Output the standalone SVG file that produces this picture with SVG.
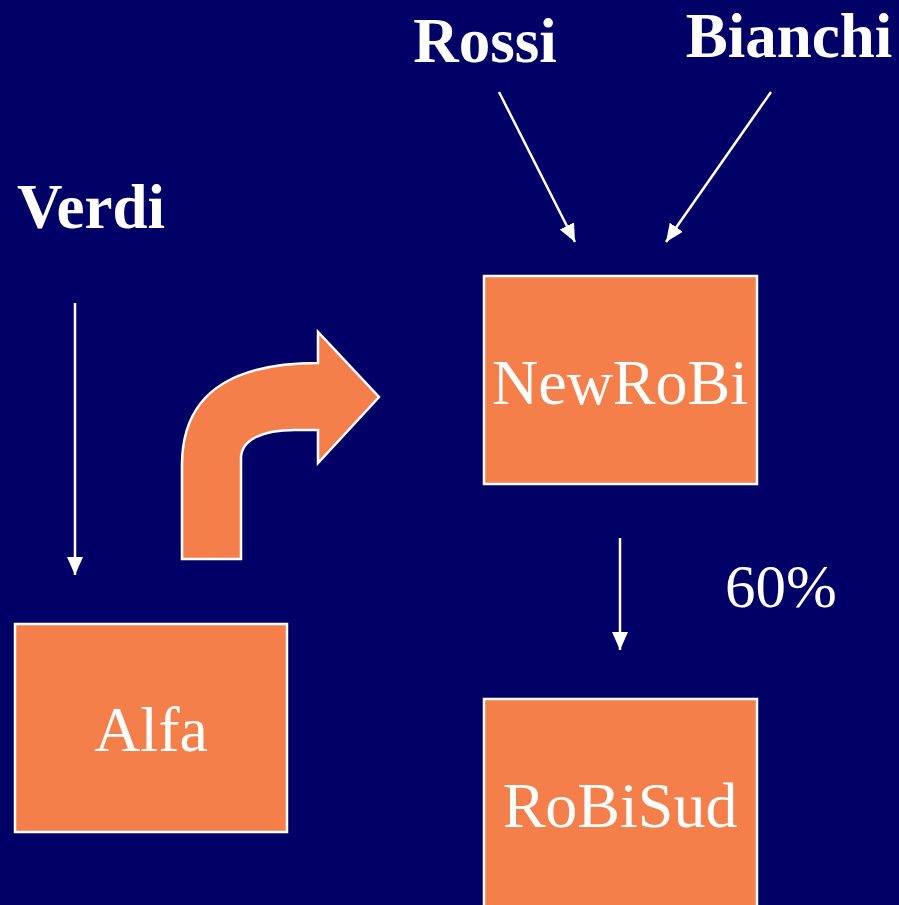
<svg xmlns="http://www.w3.org/2000/svg" width="899" height="905" viewBox="0 0 899 905">
<defs>
<marker id="ah" markerUnits="userSpaceOnUse" markerWidth="20" markerHeight="20" viewBox="0 0 20 20" refX="18" refY="10" orient="auto">
<path d="M0,2 L18,10 L0,18 Z" fill="#ffffff"/>
</marker>
<style>
.box{fill:#F47F4B;stroke:#ffffff;stroke-width:2.5}
.lbl{font-family:"Liberation Serif","Times New Roman",serif;font-size:63px;fill:#ffffff;text-anchor:middle}
.bold{font-weight:bold}
.conn{stroke:#ffffff;stroke-width:2.5;fill:none;marker-end:url(#ah)}
</style>
</defs>
<rect x="0" y="0" width="899" height="905" fill="#000066"/>
<g id="connectors">
<line class="conn" x1="75" y1="303" x2="75" y2="575"/>
<line class="conn" x1="499" y1="92" x2="575" y2="242"/>
<line class="conn" x1="771" y1="92" x2="666" y2="242"/>
<line class="conn" x1="620" y1="538" x2="620" y2="650"/>
</g>
<g id="bentArrow">
<path d="M182,559 V465 C182,398 225,363 318,363 V332 L379,397 L318,463 V430 H295 C262,430 241,440 241,458 V559 Z" fill="#F47F4B" stroke="#ffffff" stroke-width="2.5" stroke-linejoin="miter"/>
</g>
<g id="Verdi"><text class="lbl bold" x="91" y="228">Verdi</text></g>
<g id="Rossi"><text class="lbl bold" x="485" y="62">Rossi</text></g>
<g id="Bianchi"><text class="lbl bold" x="789" y="57">Bianchi</text></g>
<g id="Alfa">
<rect class="box" x="15" y="624" width="272" height="208"/>
<text class="lbl" x="151" y="751" style="font-size:64px">Alfa</text>
</g>
<g id="NewRoBi">
<rect class="box" x="484" y="276" width="273" height="208"/>
<text class="lbl" x="620" y="404" style="font-size:64px">NewRoBi</text>
</g>
<g id="RoBiSud">
<rect class="box" x="484" y="699" width="273" height="230"/>
<text class="lbl" x="620" y="827" style="font-size:64px">RoBiSud</text>
</g>
<g id="pct"><text class="lbl" x="781" y="607" style="font-size:61px">60%</text></g>
</svg>
